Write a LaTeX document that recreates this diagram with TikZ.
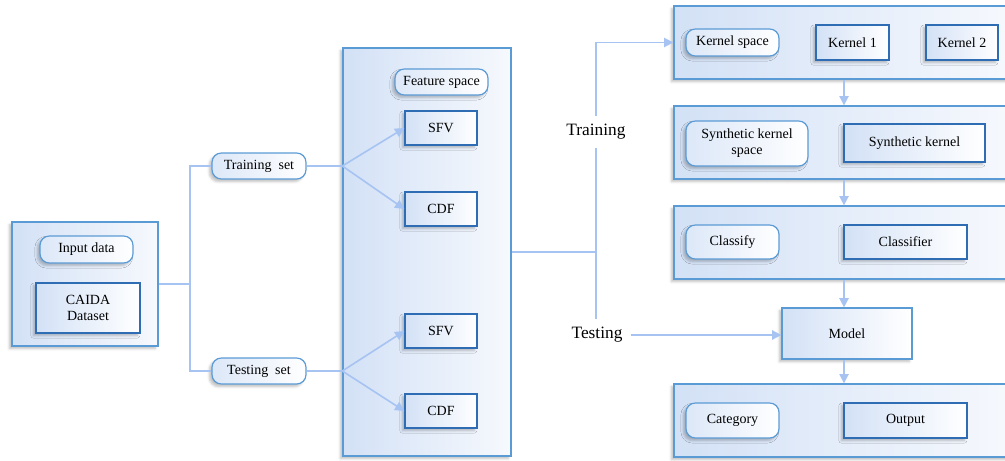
\documentclass[tikz,border=0pt]{standalone}
\usepackage{fontspec}
\setmainfont{Liberation Serif}
\usetikzlibrary{arrows.meta}
\usetikzlibrary{shadows.blur}
\usepackage{xcolor}
\definecolor{panelblue}{HTML}{D3E1F6}
\definecolor{paneledge}{HTML}{5B9BD5}
\definecolor{boxedge}{HTML}{2E6DB4}
\definecolor{linkblue}{HTML}{A6C3F2}

\tikzset{
 panel/.style={draw=paneledge, line width=1pt, left color=panelblue, right color=panelblue!20, inner sep=0,
   blur shadow={shadow xshift=-2pt, shadow yshift=-2pt, shadow opacity=25}},
 box/.style={draw=boxedge, line width=.9pt, left color=panelblue, right color=white, inner sep=1pt,
   font=\fontsize{10.5}{12}\selectfont, blur shadow={shadow xshift=-2pt, shadow yshift=-2pt, shadow opacity=25}},
 tag/.style={box, draw=paneledge, rounded corners=7pt, left color=panelblue!80, right color=white},
 label/.style={inner sep=6pt, font=\fontsize{13}{15}\selectfont},
 link/.style={draw=linkblue, line width=1.2pt},
 arr/.style={link, ->, >={Triangle[length=7pt,width=7pt]}}
}

\begin{document}
\begin{tikzpicture}[x=.75pt, y=-.75pt]
\clip (0,0) rectangle (1005,460);
% input side
\node[panel, minimum width=109.5pt, minimum height=93pt] (inpanel) at (85,284) {};
\node[tag, minimum width=69.75pt, minimum height=20.25pt] (input) at (86.5,249.5) {Input data};
\node[box, minimum width=78pt, minimum height=37.5pt, align=center] (caida) at (88,308) {CAIDA\\Dataset};
\node[tag, minimum width=70.5pt, minimum height=19.5pt] (trainset) at (259,166) {Training\ \ set};
\node[tag, minimum width=70.5pt, minimum height=19.5pt] (testset) at (259,371) {Testing\ \ set};
% feature space
\node[panel, minimum width=126pt, minimum height=306pt] (featpanel) at (427,252) {};
\node[tag, minimum width=69.75pt, minimum height=19.5pt] (feature) at (441.5,82) {Feature space};
\foreach \y/\t/\n in {128/SFV/sfvA, 209/CDF/cdfA, 331/SFV/sfvB, 411/CDF/cdfB}
 \node[box, minimum width=54pt, minimum height=25.5pt] (\n) at (441,\y) {\t};
% kernel side
\foreach \y/\n in {42.5/kpanel, 142.5/spanel, 242.5/cpanel, 420.5/opanel}
 \node[panel, minimum width=255pt, minimum height=54.75pt] (\n) at (844,\y) {};
\node[tag, minimum width=69.75pt, minimum height=20.25pt] (kspace) at (732.5,42.5) {Kernel space};
\node[box, minimum width=54.75pt, minimum height=26.25pt] (kernA) at (852.5,42.5) {Kernel 1};
\node[box, minimum width=54pt, minimum height=26.25pt] (kernB) at (962,42.5) {Kernel 2};
\node[tag, minimum width=91.5pt, minimum height=33.75pt, align=center] (sspace) at (747,143.5) {Synthetic kernel\\space};
\node[box, minimum width=105.75pt, minimum height=28.5pt] (synth) at (914.5,143) {Synthetic kernel};
\node[tag, minimum width=69.75pt, minimum height=25.5pt] (classify) at (732.5,242) {Classify};
\node[box, minimum width=92.25pt, minimum height=25.5pt] (classifier) at (905.5,242) {Classifier};
\node[box, draw=paneledge, minimum width=97.5pt, minimum height=38.25pt] (model) at (847,333.5) {Model};
\node[tag, minimum width=69.75pt, minimum height=26.25pt] (category) at (732.5,420.5) {Category};
\node[box, minimum width=92.25pt, minimum height=26.25pt] (output) at (905.5,420.5) {Output};
\node[label] (training) at (596,132) {Training};
\node[label] (testing) at (597,335) {Testing};
% connectors
\draw[link] (inpanel.east) -- (190,284) coordinate (fork);
\draw[link] (trainset.west) -| (fork) |- (testset.west);
\draw[link] (trainset.east) -- (trainset -| featpanel.west) coordinate (trfork);
\draw[link] (testset.east) -- (testset -| featpanel.west) coordinate (tsfork);
\draw[arr] (trfork) -- (sfvA.west);
\draw[arr] (trfork) -- (cdfA.west);
\draw[arr] (tsfork) -- (sfvB.west);
\draw[arr] (tsfork) -- (cdfB.west);
\draw[link] (featpanel.east) -- (596,252) coordinate (join);
\draw[link] (join) -- (training.south);
\draw[arr] (training.north) |- (kpanel.west);
\draw[link] (join) -- (join |- testing.north);
\draw[arr] (testing.east) -- (model.west |- testing.east);
\draw[arr] (kpanel.south) -- (spanel.north);
\draw[arr] (spanel.south) -- (cpanel.north);
\draw[arr] (cpanel.south) -- (cpanel.south |- model.north);
\draw[arr] (cpanel.south |- model.south) -- (opanel.north);
\end{tikzpicture}
\end{document}
